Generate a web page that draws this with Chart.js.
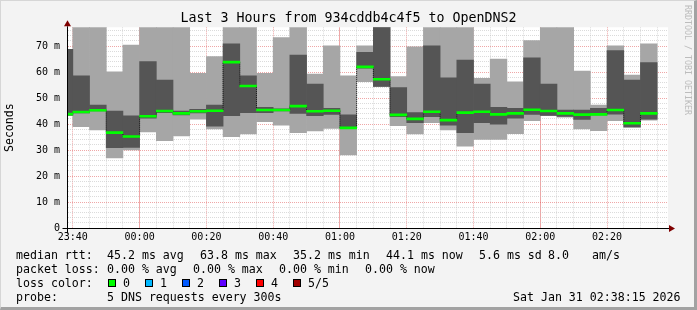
<!DOCTYPE html>
<html>
<head>
<meta charset="utf-8">
<script src="https://cdn.jsdelivr.net/npm/chart.js@4.4.1/dist/chart.umd.min.js"></script>
<style>
  html, body { margin: 0; padding: 0; background: #f3f3f3; }
  #wrap { position: relative; width: 697px; height: 310px; overflow: hidden; background: #f3f3f3;
          font-family: 'DejaVu Sans Mono', monospace; color: #000; }
  #chart { position: absolute; left: 0; top: 0; }
  .t { position: absolute; white-space: pre; font-size: 11.6px; line-height: 14px; }
  .box { position: absolute; width: 6px; height: 6px; border: 1px solid #000; top: 279px; }
  #title { position: absolute; left: 0; top: 10px; width: 697px; text-align: center;
           font-size: 13.3px; line-height: 16px; white-space: pre; }
  #mark { position: absolute; left: 683px; top: 5px; writing-mode: vertical-rl; font-size: 8.3px;
          line-height: 10px; color: #bcbcbc; white-space: pre; }
  #edge { position: absolute; left: 0; top: 0; width: 697px; height: 310px; box-sizing: border-box;
          border-top: 1px solid #d6d6d6; border-left: 1px solid #d6d6d6;
          border-right: 3px solid #a2a2a2; border-bottom: 3px solid #a2a2a2; pointer-events: none; }
</style>
</head>
<body>
<div id="wrap">
  <canvas id="chart" width="697" height="310"></canvas>
  <div id="title">Last 3 Hours from 934cddb4c4f5 to OpenDNS2</div>
  <div id="mark">RRDTOOL / TOBI OETIKER</div>

  <div class="t" style="left:16px;top:248px">median rtt:</div>
  <div class="t" style="left:107px;top:248px">45.2 ms avg</div>
  <div class="t" style="left:200px;top:248px">63.8 ms max</div>
  <div class="t" style="left:293px;top:248px">35.2 ms min</div>
  <div class="t" style="left:386px;top:248px">44.1 ms now</div>
  <div class="t" style="left:479px;top:248px">5.6 ms sd</div>
  <div class="t" style="left:548px;top:248px">8.0</div>
  <div class="t" style="left:592px;top:248px">am/s</div>

  <div class="t" style="left:16px;top:262px">packet loss:</div>
  <div class="t" style="left:107px;top:262px">0.00 % avg</div>
  <div class="t" style="left:193px;top:262px">0.00 % max</div>
  <div class="t" style="left:279px;top:262px">0.00 % min</div>
  <div class="t" style="left:365px;top:262px">0.00 % now</div>

  <div class="t" style="left:16px;top:276px">loss color:</div>
  <div class="box" style="left:108px;background:#00ff00"></div>
  <div class="t" style="left:123px;top:276px">0</div>
  <div class="box" style="left:145px;background:#00b8ff"></div>
  <div class="t" style="left:160px;top:276px">1</div>
  <div class="box" style="left:182px;background:#0059ff"></div>
  <div class="t" style="left:197px;top:276px">2</div>
  <div class="box" style="left:219px;background:#5e00ff"></div>
  <div class="t" style="left:234px;top:276px">3</div>
  <div class="box" style="left:256px;background:#ff0000"></div>
  <div class="t" style="left:271px;top:276px">4</div>
  <div class="box" style="left:293px;background:#a00000"></div>
  <div class="t" style="left:308px;top:276px">5/5</div>

  <div class="t" style="left:16px;top:290px">probe:</div>
  <div class="t" style="left:107px;top:290px">5 DNS requests every 300s</div>
  <div class="t" style="left:513px;top:290px">Sat Jan 31 02:38:15 2026</div>
  <div id="edge"></div>
</div>
<script>
// 5-minute slots, labelled by the time each slot ends
const slotEnds = ['23:40', '23:45', '23:50', '23:55', '00:00', '00:05', '00:10', '00:15', '00:20',
  '00:25', '00:30', '00:35', '00:40', '00:45', '00:50', '00:55', '01:00', '01:05', '01:10',
  '01:15', '01:20', '01:25', '01:30', '01:35', '01:40', '01:45', '01:50', '01:55', '02:00',
  '02:05', '02:10', '02:15', '02:20', '02:25', '02:30', '02:35'];

// rtt in ms: fastest, 2nd, median, 4th, slowest of the 5 pings
const rttMin = [43.2, 39.0, 37.7, 27.0, 30.0, 37.0, 33.6, 35.4, 41.9, 38.1, 35.1, 36.2, 40.9,
  39.6, 36.7, 37.3, 38.3, 28.1, 56.3, 54.4, 39.4, 36.2, 40.5, 37.7, 31.5, 34.1, 34.1, 36.3,
  41.3, 43.2, 42.6, 38.1, 37.4, 41.3, 38.7, 41.5];
const rttLow = [43.4, 44.3, 45.0, 30.9, 31.0, 42.2, 44.4, 43.5, 44.3, 39.2, 43.2, 44.4, 44.4,
  45.0, 44.1, 43.2, 43.7, 38.3, 61.5, 54.5, 42.8, 40.5, 42.8, 39.6, 36.7, 40.5, 39.9, 42.2,
  43.7, 43.3, 42.9, 41.8, 43.5, 43.8, 38.9, 41.9];
const rttMedian = [43.8, 44.6, 45.3, 36.7, 35.2, 43.0, 45.0, 44.1, 44.9, 45.1, 63.8, 54.6, 45.4,
  45.4, 46.9, 44.9, 45.1, 38.5, 62.0, 57.2, 43.5, 42.0, 44.7, 41.5, 44.4, 44.7, 43.7, 44.1,
  45.5, 45.0, 44.1, 43.6, 43.7, 45.4, 40.3, 44.1];
const rttHigh = [68.7, 58.5, 47.3, 45.0, 43.1, 64.0, 56.9, 45.0, 45.6, 47.3, 70.8, 58.5, 46.4,
  45.8, 66.5, 55.4, 46.0, 43.5, 67.6, 80.0, 54.0, 44.4, 70.1, 57.8, 64.6, 55.4, 46.4, 46.0,
  65.5, 55.4, 45.4, 45.4, 46.0, 68.2, 56.9, 63.6];
const rttMax = [68.7, 80.0, 80.0, 60.1, 70.4, 80.0, 80.0, 80.0, 59.5, 65.9, 80.0, 80.0, 59.5,
  73.2, 80.0, 59.2, 70.1, 58.5, 70.1, 82.0, 58.2, 69.7, 80.0, 80.0, 80.0, 57.6, 65.0, 56.2,
  72.1, 80.0, 80.0, 60.4, 47.3, 70.1, 58.8, 70.8];

const xTickLabels = ['23:40', '00:00', '00:20', '00:40', '01:00', '01:20', '01:40', '02:00', '02:20'];
const hourLabels = ['00:00', '01:00', '02:00'];
const yTickLabels = ['0', '10 m', '20 m', '30 m', '40 m', '50 m', '60 m', '70 m'];
const windowStart = '23:38:15';
const windowEnd = '02:38:15';

// minutes after 23:40
function toMin(s) {
  const p = s.split(':').map(Number);
  let t = p[0] * 60 + p[1] + (p[2] || 0) / 60 - (23 * 60 + 40);
  if (t < -60) t += 1440;
  return t;
}

const centers = slotEnds.map(s => toMin(s) - 2.5);
const span = (lo, hi) => centers.map((x, i) => ({ x: x, y: [lo[i], hi[i]] }));
const medianBand = centers.map((x, i) => ({ x: x, y: [rttMedian[i] - 0.38, rttMedian[i] + 0.38] }));
const medianPts = centers.map((x, i) => ({ x: x, y: rttMedian[i] }));

const xMajor = xTickLabels.map(toMin);
const xHours = hourLabels.map(toMin);
const xGrid = [];
for (let m = 0; m <= toMin(windowEnd); m += 5) xGrid.push(m);
const yGrid = [];
for (let v = 0; v <= 76; v += 2) yGrid.push(v);

const MGRID = 'rgba(224,80,80,0.5)';
const GRID = 'rgba(190,190,190,0.55)';
const monoFont = { family: 'DejaVu Sans Mono', size: 10 };

const framePlugin = {
  id: 'framePlugin',
  beforeDraw(chart) {
    const { ctx, chartArea: a } = chart;
    ctx.save();
    ctx.fillStyle = '#ffffff';
    ctx.fillRect(a.left, a.top, a.right - a.left, a.bottom - a.top);
    ctx.restore();
  },
  afterDraw(chart) {
    const { ctx, chartArea: a } = chart;
    const l = Math.round(a.left) + 0.5, b = Math.round(a.bottom) + 0.5;
    ctx.save();
    ctx.strokeStyle = '#000';
    ctx.lineWidth = 1;
    ctx.beginPath();
    ctx.moveTo(l - 5, b); ctx.lineTo(a.right + 2, b);
    ctx.moveTo(l, b + 5); ctx.lineTo(l, a.top - 1);
    ctx.stroke();
    ctx.fillStyle = '#7f0000';
    ctx.beginPath();
    ctx.moveTo(l, a.top - 7); ctx.lineTo(l - 3.5, a.top - 1); ctx.lineTo(l + 3.5, a.top - 1);
    ctx.closePath(); ctx.fill();
    ctx.beginPath();
    ctx.moveTo(a.right + 7, b); ctx.lineTo(a.right + 1, b - 3.5); ctx.lineTo(a.right + 1, b + 3.5);
    ctx.closePath(); ctx.fill();
    ctx.restore();
  }
};

new Chart(document.getElementById('chart'), {
  type: 'bar',
  data: {
    datasets: [
      { label: 'median', data: medianBand, backgroundColor: '#00ff00', order: 1 },
      { label: 'step', type: 'line', data: medianPts, stepped: 'middle', borderColor: '#1a1a1a',
        borderWidth: 1, borderDash: [1, 1], pointRadius: 0, fill: false, order: 2 },
      { label: 'inner', data: span(rttLow, rttHigh), backgroundColor: '#555555', order: 3 },
      { label: 'outer', data: span(rttMin, rttMax), backgroundColor: '#a6a6a6', order: 4 }
    ]
  },
  options: {
    responsive: false,
    animation: false,
    events: [],
    layout: { padding: { left: 0, right: 29, top: 27.3, bottom: 62 } },
    datasets: {
      bar: { grouped: false, barPercentage: 1, categoryPercentage: 1, borderWidth: 0, clip: 0 },
      line: { clip: 0 }
    },
    plugins: { legend: { display: false }, tooltip: { enabled: false }, title: { display: false } },
    scales: {
      x: {
        type: 'linear', min: toMin(windowStart), max: toMin(windowEnd), offset: false, z: 1,
        afterBuildTicks: s => { s.ticks = xGrid.map(v => ({ value: v })); },
        afterFit: s => { s.height = 20; },
        grid: {
          offset: false, drawTicks: false, lineWidth: 1,
          color: c => (c.tick && xMajor.includes(c.tick.value)) ? MGRID : GRID
        },
        border: {
          display: true, color: '#000', width: 1,
          dash: c => (c.tick && xHours.includes(c.tick.value)) ? [] : [1, 1]
        },
        ticks: {
          autoSkip: false, maxRotation: 0, padding: 3, color: '#000', font: monoFont,
          callback: v => { const i = xMajor.indexOf(v); return i >= 0 ? xTickLabels[i] : ''; }
        }
      },
      y: {
        type: 'linear', min: 0, max: 77.2, z: 1,
        afterBuildTicks: s => { s.ticks = yGrid.map(v => ({ value: v })); },
        afterFit: s => { s.width = 67; },
        grid: {
          drawTicks: false, lineWidth: 1,
          color: c => (c.tick && c.tick.value % 10 === 0) ? MGRID : GRID
        },
        border: { display: true, color: '#000', width: 1, dash: [1, 1] },
        ticks: {
          autoSkip: false, padding: 7, color: '#000', font: monoFont,
          callback: v => (v % 10 === 0 ? yTickLabels[v / 10] : '')
        },
        title: {
          display: true, text: 'Seconds', color: '#000', padding: { top: 3, bottom: 0 },
          font: { family: 'DejaVu Sans Mono', size: 11.6 }
        }
      }
    }
  },
  plugins: [framePlugin]
});
</script>
</body>
</html>
